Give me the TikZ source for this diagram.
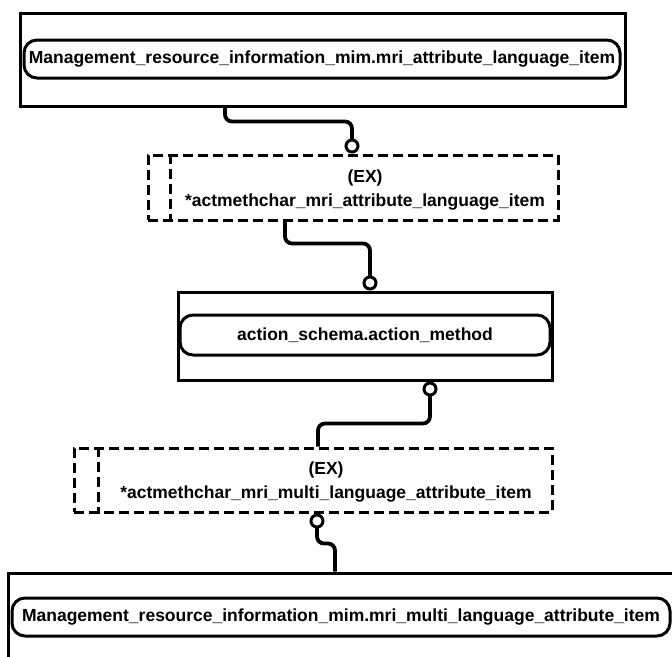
\documentclass[tikz,border=0pt]{standalone}
\usepackage{fontspec}
\setmainfont{Liberation Sans}
\usetikzlibrary{arrows.meta,positioning}

\begin{document}
\begin{tikzpicture}[
  x=1pt,y=-1pt,
  entbox/.style={draw,line width=3pt,inner sep=0pt},
  entname/.style={draw,line width=3pt,rounded corners=13pt,inner sep=0pt,
    minimum height=38pt,font=\fontsize{17.5}{20}\selectfont\bfseries},
  exbox/.style={draw,line width=3pt,dash pattern=on 10pt off 5pt,inner sep=0pt},
  extext/.style={align=center,font=\fontsize{17.5}{24}\selectfont\bfseries},
  link/.style={line width=3.8pt,rounded corners=7pt},
  ring/.tip={Circle[open,length=15pt,width=15pt,line width=3pt]}
]
  \clip (0,0) rectangle (672,656);
  % Top entity
  \node[entbox,minimum width=605pt,minimum height=93pt] (top) at (322.5,59.5) {};
  \node[entname,minimum width=596pt] (topname) at (322,59)
    {Management\_resource\_information\_mim.mri\_attribute\_language\_item};
  % First extension
  \node[exbox,minimum width=410pt,minimum height=65pt] (ex1) at (353,187.5) {};
  \draw[exbox] ([xshift=24pt]ex1.north west) -- ([xshift=24pt]ex1.south west);
  \node[extext] (ex1txt) at (365,190) {(EX)\\*actmethchar\_mri\_attribute\_language\_item};
  % Action method
  \node[entbox,minimum width=374pt,minimum height=88pt] (act) at (365,336) {};
  \node[entname,minimum width=370pt,minimum height=40pt] (actname) at (365,335)
    {action\_schema.action\_method};
  % Second extension
  \node[exbox,minimum width=478pt,minimum height=64pt] (ex2) at (313,480) {};
  \draw[exbox] ([xshift=26pt]ex2.north west) -- ([xshift=26pt]ex2.south west);
  \node[extext] (ex2txt) at (326,482) {(EX)\\*actmethchar\_mri\_multi\_language\_attribute\_item};
  % Bottom entity
  \node[entbox,minimum width=692pt,minimum height=117pt] (bot) at (354,631.5) {};
  \node[entname,minimum width=658pt] (botname) at (341,617)
    {Management\_resource\_information\_mim.mri\_multi\_language\_attribute\_item};
  % Links
  \draw[link,-{ring}] ([xshift=-97.5pt]top.south) |- ([xshift=-1pt,yshift=32pt]ex1.north)
    -- ([xshift=-1pt]ex1.north);
  \draw[link,-{ring}] ([xshift=-68pt]ex1.south) |- ([xshift=5pt,yshift=47pt]act.north)
    -- ([xshift=5pt]act.north);
  \draw[link,{ring}-] ([xshift=65pt]act.south) |- ([xshift=5pt,yshift=23pt]ex2.north)
    -- ([xshift=5pt]ex2.north);
  \draw[link,{ring}-] ([xshift=4pt]ex2.south) |- ([xshift=-19pt,yshift=28pt]bot.north)
    -- ([xshift=-19pt]bot.north);
\end{tikzpicture}
\end{document}
